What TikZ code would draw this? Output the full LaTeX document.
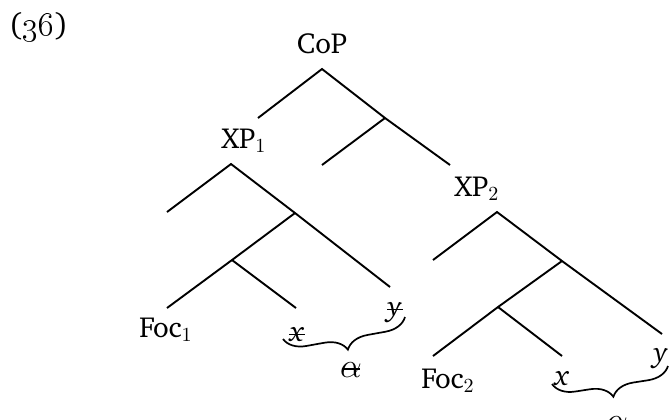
\documentclass[tikz,border=0pt]{standalone}
\usepackage[T1]{fontenc}
\usepackage{charter}
\usetikzlibrary{decorations.pathreplacing}
\newcommand\strk[1]{\ooalign{#1\cr\hidewidth\rule[0.45ex]{0.55em}{0.6pt}\hidewidth\cr}}
\begin{document}
\begin{tikzpicture}[x=0.5pt,y=-0.5pt,line width=0.95pt,
  lbl/.style={anchor=base,inner sep=0pt,font=\fontsize{14.5}{17}\selectfont},
  alp/.style={lbl,font=\fontsize{17}{20}\selectfont},
  br/.style={decorate,decoration={brace,mirror,amplitude=11pt},line width=0.85pt}]
\useasboundingbox (0,0) rectangle (672,419);
% labels
\node[lbl,anchor=base west,font=\fontsize{16}{19}\selectfont] (n36) at (8,35) {(\oldstylenums{36})};
\node[lbl] (cop) at (322,53) {CoP};
\node[lbl] (xp1) at (244,148) {XP$_1$};
\node[lbl] (xp2) at (477,196) {XP$_2$};
\node[lbl] (foc1) at (166,337) {Foc$_1$};
\node[lbl] (x1) at (297,341) {\strk{\textit{x}}};
\node[lbl] (y1) at (395,316) {\strk{\textit{y}}};
\node[alp] (a1) at (351,377) {\strk{$\alpha$}};
\node[lbl] (foc2) at (448,388) {Foc$_2$};
\node[lbl] (x2) at (562,385) {\textit{x}};
\node[lbl] (y2) at (661,362) {\textit{y}};
\node[alp] (a2) at (617,431) {$\alpha$};
% CoP tree
\coordinate (cb) at (322,69);
\coordinate (cl) at (258,118);
\coordinate (cm) at (385,118);
\coordinate (cml) at (322,165);
\coordinate (cr) at (450,165);
\draw (cl) -- (cb) -- (cm) -- (cr);
\draw (cm) -- (cml);
% XP1 tree
\coordinate (pb) at (231,164);
\coordinate (pl) at (167,212);
\coordinate (pm) at (295,213);
\coordinate (py) at (390,287);
\coordinate (pn) at (232,260);
\coordinate (pf) at (167,308);
\coordinate (px) at (296,308);
\draw (pl) -- (pb) -- (pm) -- (py);
\draw (pm) -- (pn) -- (pf);
\draw (pn) -- (px);
% XP2 tree
\coordinate (qb) at (497,212);
\coordinate (ql) at (433,260);
\coordinate (qm) at (562,261);
\coordinate (qy) at (662,334);
\coordinate (qn) at (498,307);
\coordinate (qf) at (433,356);
\coordinate (qx) at (562,356);
\draw (ql) -- (qb) -- (qm) -- (qy);
\draw (qm) -- (qn) -- (qf);
\draw (qn) -- (qx);
% braces
\coordinate (b1s) at (283,339);
\coordinate (b1e) at (405,317);
\coordinate (b2s) at (552,384);
\coordinate (b2e) at (668,366);
\draw[br] (b1s) -- (b1e);
\draw[br] (b2s) -- (b2e);
\end{tikzpicture}
\end{document}
